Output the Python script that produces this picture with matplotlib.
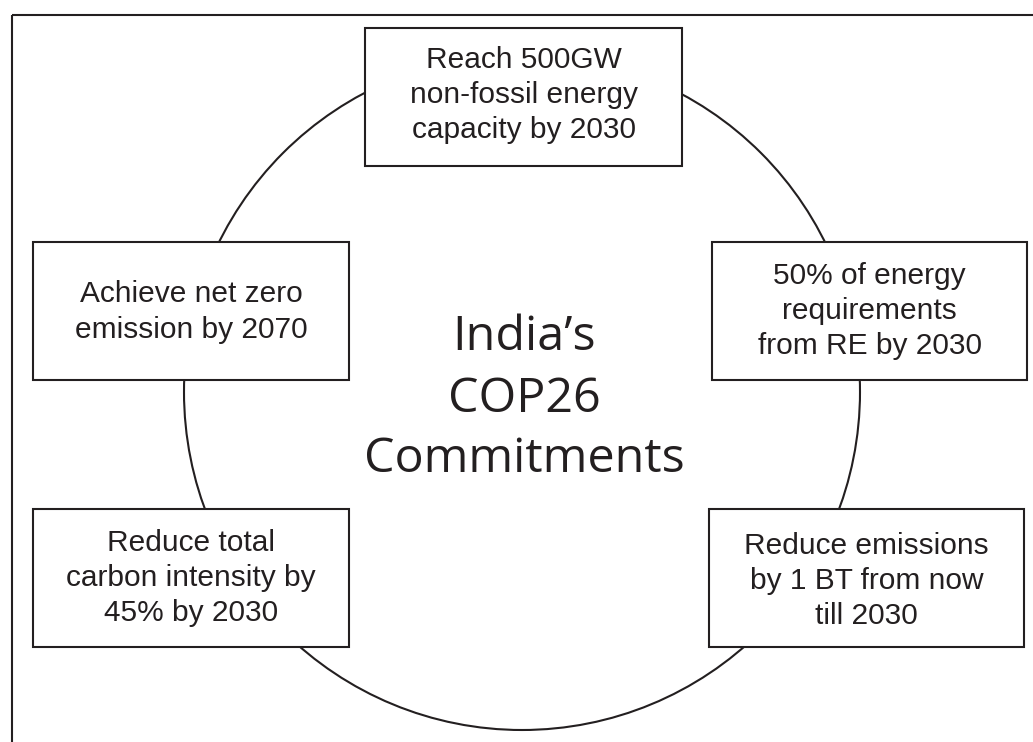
import matplotlib
matplotlib.use("Agg")
import matplotlib.pyplot as plt
from matplotlib.patches import Rectangle, Circle

# ---- content ----
box_labels = [
    "Reach 500GW\nnon-fossil energy\ncapacity by 2030",
    "Achieve net zero\nemission by 2070",
    "50% of energy\nrequirements\nfrom RE by 2030",
    "Reduce total\ncarbon intensity by\n45% by 2030",
    "Reduce emissions\nby 1 BT from now\ntill 2030",
]
center_lines = ["India\u2019s", "COP26", "Commitments"]

# ---- layout (pixel coords: x0, y0_top, x1, y1_bottom) ----
box_rects = [
    (365, 28, 682, 166),
    (33, 242, 349, 380),
    (712, 242, 1027, 380),
    (33, 509, 349, 647),
    (709, 509, 1024, 647),
]
text_y = [95, 312, 311, 578, 581]
center_baselines = [350, 412, 472]

W, H, DPI = 1033, 742, 100
INK = "#231f20"
LW = 1.5

fig = plt.figure(figsize=(W / DPI, H / DPI), dpi=DPI)
ax = fig.add_axes([0, 0, 1, 1])
ax.set_xlim(0, W)
ax.set_ylim(H, 0)
ax.axis("off")

# outer frame (extends beyond right/bottom edge)
ax.add_patch(Rectangle((12, 15), 1040, 760, fill=False, ec=INK, lw=LW, zorder=1))

# circle
ax.add_patch(Circle((522, 392), 338, fill=False, ec=INK, lw=LW, zorder=2))

for (x0, y0, x1, y1), lab, ty in zip(box_rects, box_labels, text_y):
    ax.add_patch(Rectangle((x0, y0), x1 - x0, y1 - y0, fc="white", ec=INK, lw=LW, zorder=3))
    ax.text((x0 + x1) / 2, ty, lab, ha="center", va="center", fontsize=21.5,
            family="Liberation Sans", color=INK, linespacing=1.34, zorder=4)

# central title
renderer = fig.canvas.get_renderer()
probe = ax.text(0, 0, "Commitments", fontsize=40, family="Open Sans")
bb = probe.get_window_extent(renderer=renderer)
fs = 40 * 320 / bb.width
probe.remove()
for line, yb in zip(center_lines, center_baselines):
    ax.text(524, yb, line, ha="center", va="baseline", fontsize=fs,
            family="Open Sans", color=INK, zorder=4)

fig.savefig("out.png", dpi=DPI, facecolor="white")
